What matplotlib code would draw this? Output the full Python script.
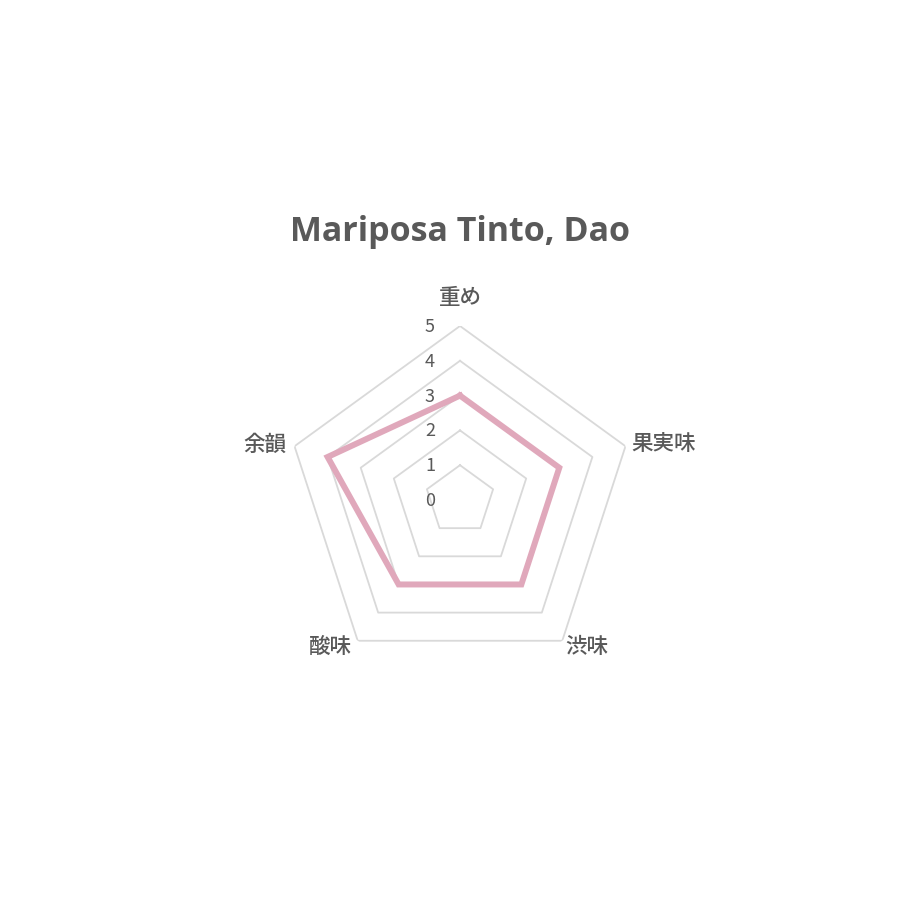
import numpy as np
import matplotlib
matplotlib.use("Agg")
import matplotlib.pyplot as plt

plt.rcParams['font.family'] = ['Noto Sans CJK JP', 'DejaVu Sans']

# データ
title = "Mariposa Tinto, Dao"
categories = ["重め", "果実味", "渋味", "酸味", "余韻"]
values = [3, 3, 3, 3, 4]
ticks = [0, 1, 2, 3, 4, 5]

text_color = "#595959"
grid_color = "#d9d9d9"
line_color = "#e0a8bb"

fig = plt.figure(figsize=(9.2, 9.2), dpi=100)
# 中心 (460, 501) px, 半径 174 px
ax = fig.add_axes([286 / 920, 245 / 920, 348 / 920, 348 / 920], projection='polar')
ax.set_theta_zero_location('N')
ax.set_theta_direction(-1)
ax.set_ylim(0, 5)
ax.set_axis_off()

n = len(categories)
angles = np.linspace(0, 2 * np.pi, n, endpoint=False)
closed = np.concatenate([angles, angles[:1]])

# 五角形のグリッド
for r in ticks[1:]:
    ax.plot(closed, [r] * (n + 1), color=grid_color, lw=1.3, zorder=1)

# データの線
vals = values + values[:1]
ax.plot(closed, vals, color=line_color, lw=4.3, solid_joinstyle='miter', zorder=3)

# 目盛ラベル
for r in ticks:
    ax.annotate(str(r), xy=(0, r), xytext=(-30, 0), textcoords='offset pixels',
                ha='center', va='center', fontsize=13, color=text_color)

# カテゴリラベル
offsets = [(0, 29, 'center'), (6, 3, 'left'), (3, -5, 'left'),
           (-6, -5, 'right'), (-8, 2, 'right')]
for ang, lab, (dx, dy, ha) in zip(angles, categories, offsets):
    ax.annotate(lab, xy=(ang, 5), xytext=(dx, dy), textcoords='offset pixels',
                ha=ha, va='center', fontsize=15.5, fontweight='medium', color=text_color)

fig.text(0.5, 1 - 232 / 920, title, ha='center', va='center',
         fontsize=24.5, fontweight='bold', color=text_color,
         family=['Open Sans', 'DejaVu Sans'])

fig.savefig("out.png", dpi=100, facecolor='white')
